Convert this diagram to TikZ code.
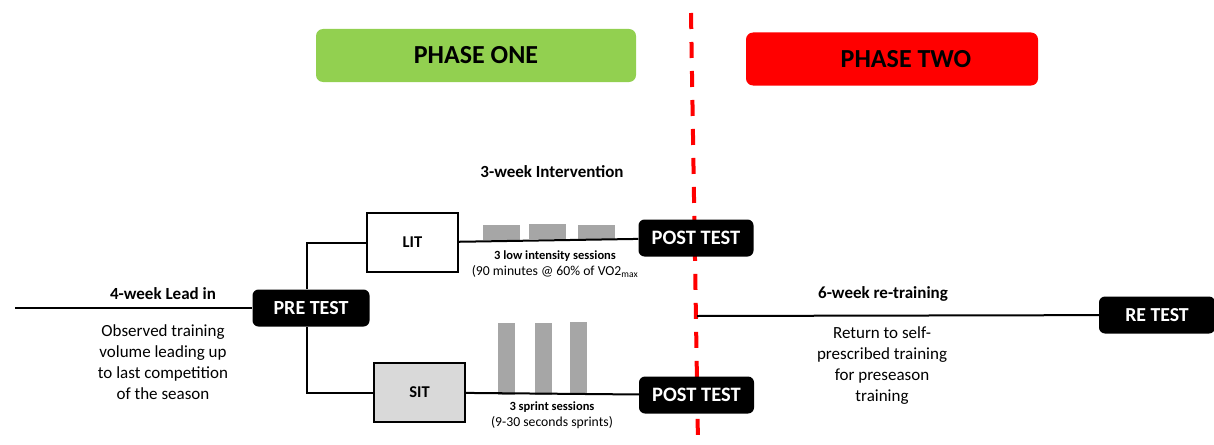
\documentclass[tikz,border=0pt]{standalone}
\usepackage{fontspec}
\setmainfont{Carlito}
\definecolor{phaseone}{HTML}{92D050}
\definecolor{phasetwo}{HTML}{FF0000}
\definecolor{bargray}{HTML}{A6A6A6}
\definecolor{sitgray}{HTML}{D9D9D9}
\tikzset{
  phasebox/.style={rounded corners=7pt, minimum height=53pt, inner sep=0pt,
    font=\fontsize{26}{28}\selectfont\bfseries},
  testbox/.style={fill=black, rounded corners=6pt, text=white, minimum height=37pt,
    minimum width=115pt, inner sep=0pt, font=\fontsize{20.5}{22}\selectfont\bfseries},
  armbox/.style={draw=black, line width=2pt, minimum width=91pt, minimum height=59pt,
    inner sep=0pt, font=\fontsize{16.5}{18}\selectfont\bfseries},
  heading/.style={font=\fontsize{17}{20}\selectfont\bfseries},
  note/.style={align=center, font=\fontsize{17}{21}\selectfont},
  small/.style={align=center, font=\fontsize{13.7}{16}\selectfont},
  bar/.style={fill=bargray},
  link/.style={line width=2pt}
}
\begin{document}
\begin{tikzpicture}[x=1pt, y=-1pt]
  \useasboundingbox (0,0) rectangle (1214,444);
  \clip (0,0) rectangle (1214,444);

  \coordinate (top) at (691,13);
  \coordinate (bottom) at (698,444);
  % phase split
  \draw[phasetwo, line width=4pt, dash pattern=on 16pt off 13pt] (top) -- (bottom);

  % phase headers
  \node[phasebox, fill=phaseone, minimum width=320pt] (one) at (476,55.5) {PHASE ONE};
  \node[phasebox, fill=phasetwo, minimum width=292pt] (two) at (892,59) {\hspace*{28pt}PHASE TWO};

  % tests
  \node[testbox, minimum width=117pt, font=\fontsize{20}{22}\selectfont\bfseries] (pre) at (311,308) {PRE TEST};
  \node[testbox] (post1) at (696,238) {POST TEST};
  \node[testbox] (post2) at (696.5,395) {POST TEST};
  \node[testbox, minimum width=116pt, font=\fontsize{19.8}{22}\selectfont\bfseries] (re) at (1157,315) {RE TEST};

  % training arms
  \node[armbox, fill=white] (lit) at (412.5,242.5) {LIT};
  \node[armbox, fill=sitgray] (sit) at (419.5,392.5) {SIT};

  \coordinate (start) at (15,308);
  \coordinate (mid) at (697,316);

  % labels
  \node[heading] (int) at (552,172) {3-week Intervention};
  \node[heading] (lead) at (163,294) {4-week Lead in};
  \node[note] (obs) at (163,362) {Observed training\\volume leading up\\to last competition\\of the season};
  \node[heading] (six) at (883,294) {6-week re-training};
  \node[note] (ret) at (882,366) {Return to self-\\prescribed training\\for preseason\\training};
  \node[small] (litlab) at (555,264) {\textbf{\fontsize{12.5}{16}\selectfont 3 low intensity sessions}\\(90 minutes @ 60\% of VO2\textsubscript{max}};
  \node[small] (sitlab) at (552,415) {\textbf{\fontsize{12.5}{16}\selectfont 3 sprint sessions}\\(9-30 seconds sprints)};

  % session bars
  \fill[bar] (483,225) rectangle (520,240);
  \fill[bar] (529,224) rectangle (566,239);
  \fill[bar] (578,225) rectangle (615,240);
  \fill[bar] (498,323) rectangle (515,395);
  \fill[bar] (535,323) rectangle (552,395);
  \fill[bar] (570,322) rectangle (587,393);

  % connectors
  \draw[link] (start) -- (pre);
  \draw[link] (lit.west) -| ([xshift=-4pt]pre.north);
  \draw[link] (sit.west) -| ([xshift=-4pt]pre.south);
  \draw[link] (lit) -- (post1);
  \draw[link] (sit) -- (post2);
  \draw[link] (mid) -- (re);
\end{tikzpicture}
\end{document}
